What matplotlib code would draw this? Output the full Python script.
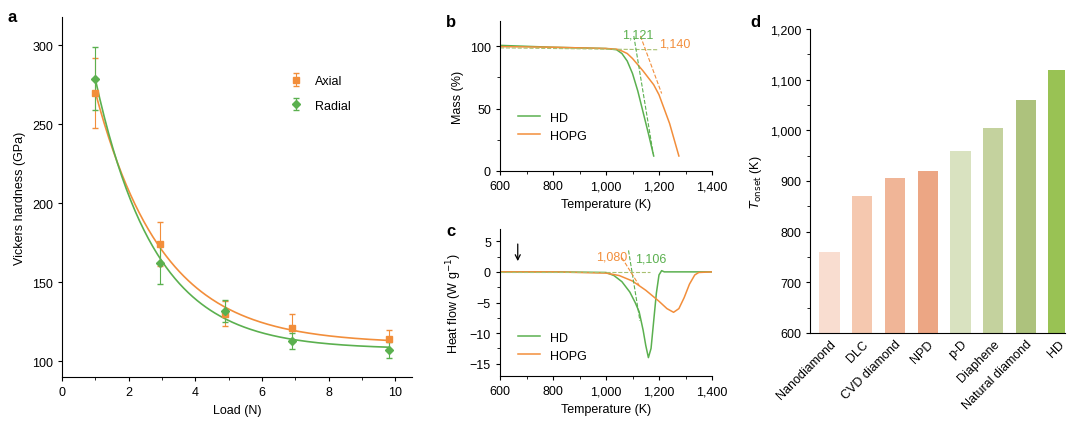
import numpy as np
import matplotlib
matplotlib.use("Agg")
import matplotlib.pyplot as plt

plt.rcParams['font.family'] = ['Liberation Sans', 'DejaVu Sans']
plt.rcParams['font.size'] = 9

OR = '#F28E3B'
GR = '#5BB04F'

# Panel a
load = [1.0, 2.95, 4.9, 6.9, 9.8]
axial = [270, 174, 130, 121, 114]
axial_err = [22, 14, 8, 9, 6]
radial = [279, 162, 132, 113, 107]
radial_err = [20, 13, 7, 5, 5]

# Panel b
tb_hd = [600, 800, 1000, 1040, 1060, 1080, 1100, 1120, 1140, 1160, 1180]
mass_hd = [100.5, 99, 98, 97, 94, 88, 78, 64, 47, 30, 12]
tb_hopg = [600, 800, 1000, 1040, 1060, 1080, 1100, 1140, 1180, 1200, 1240, 1275]
mass_hopg = [99.5, 99, 98, 97.5, 96, 94, 90, 80, 69, 61, 38, 12]
onset_b = {'1,121': 1121, '1,140': 1140}

# Panel c
tc_hd = [600, 800, 1000, 1030, 1060, 1090, 1110, 1125, 1140, 1150, 1160, 1170, 1180, 1190, 1200, 1210, 1220, 1300, 1400]
hf_hd = [0, 0, -0.1, -0.6, -1.6, -3.3, -5, -6.5, -9.5, -12, -14, -12.5, -8, -3.5, -0.5, 0.2, 0, 0, 0]
tc_hopg = [600, 800, 1000, 1050, 1100, 1150, 1200, 1230, 1255, 1275, 1295, 1315, 1335, 1350, 1400]
hf_hopg = [0, 0, -0.2, -0.6, -1.5, -3.0, -4.8, -6.0, -6.6, -6.0, -4.2, -2.0, -0.5, -0.1, 0]

# Panel d
materials = ['Nanodiamond', 'DLC', 'CVD diamond', 'NPD', 'p-D', 'Diaphene', 'Natural diamond', 'HD']
tonset = [760, 870, 905, 920, 960, 1005, 1060, 1120]
bar_colors = ['#F9DDD0', '#F5C8AF', '#F0B597', '#ECA684', '#D9E2C0', '#C4D29E', '#ADC27D', '#99C254']

fig = plt.figure(figsize=(10.8, 4.27), dpi=100)

def style(ax):
    for s in ['top', 'right']:
        ax.spines[s].set_visible(False)
    ax.tick_params(direction='out', length=3)

def fit_exp(x, y):
    x = np.asarray(x); y = np.asarray(y)
    best = None
    for t in np.linspace(0.5, 6, 400):
        A = np.vstack([np.ones_like(x), np.exp(-x / t)]).T
        c, res, *_ = np.linalg.lstsq(A, y, rcond=None)
        r = np.sum((A @ c - y) ** 2)
        if best is None or r < best[0]:
            best = (r, t, c)
    _, t, c = best
    return lambda xx: c[0] + c[1] * np.exp(-xx / t)

# a
axa = fig.add_axes([62/1080, 1-378/427, 350/1080, 360/427])
style(axa)
xs = np.linspace(1, 9.8, 200)
fa = fit_exp(load, axial); fr = fit_exp(load, radial)
axa.plot(xs, fa(xs), color=OR, lw=1.2)
axa.plot(xs, fr(xs), color=GR, lw=1.2)
axa.errorbar(load, axial, yerr=axial_err, fmt='s', color=OR, ms=5, capsize=2, elinewidth=0.8, label='Axial')
axa.errorbar(load, radial, yerr=radial_err, fmt='D', color=GR, ms=4.5, capsize=2, elinewidth=0.8, label='Radial')
axa.set_xlim(0, 10.5)
axa.set_ylim(90, 318)
axa.set_xticks([0, 2, 4, 6, 8, 10])
axa.set_yticks([100, 150, 200, 250, 300])
axa.set_xticks(np.arange(1, 11, 2), minor=True)
axa.set_xlabel('Load (N)')
axa.set_ylabel('Vickers hardness (GPa)')
axa.legend(loc='upper left', bbox_to_anchor=(0.6, 0.87), frameon=False, handletextpad=0.5, labelspacing=1.0)
fig.text(8/1080, 1-22/427, 'a', fontsize=12, fontweight='bold')

# b
axb = fig.add_axes([500/1080, 1-172/427, 212/1080, 150/427])
style(axb)
axb.plot(tb_hd, mass_hd, color=GR, lw=1.1, label='HD')
axb.plot(tb_hopg, mass_hopg, color=OR, lw=1.1, label='HOPG')
axb.plot([600, 1200], [98.5, 97], ls='--', color='#A8C070', lw=0.8)
axb.plot([1105, 1178], [108, 14], ls='--', color=GR, lw=0.8)
axb.plot([1130, 1210], [108, 62], ls='--', color=OR, lw=0.8)
axb.text(1121, 104, '1,121', color=GR, ha='center', va='bottom', fontsize=9)
axb.text(1200, 97, '1,140', color=OR, ha='left', va='bottom', fontsize=9)
axb.set_xlim(600, 1400); axb.set_ylim(0, 120)
axb.set_xticks([600, 800, 1000, 1200, 1400]); axb.set_xticklabels(['600', '800', '1,000', '1,200', '1,400'])
axb.set_xticks([700, 900, 1100, 1300], minor=True)
axb.set_yticks([0, 50, 100]); axb.set_yticks([25, 75], minor=True)
axb.set_xlabel('Temperature (K)'); axb.set_ylabel('Mass (%)')
axb.legend(loc='lower left', bbox_to_anchor=(0.03, 0.12), frameon=False, handlelength=1.8)
fig.text(446/1080, 1-27/427, 'b', fontsize=12, fontweight='bold')

# c
axc = fig.add_axes([500/1080, 1-377/427, 212/1080, 147/427])
style(axc)
axc.plot(tc_hd, hf_hd, color=GR, lw=1.1, label='HD')
axc.plot(tc_hopg, hf_hopg, color=OR, lw=1.1, label='HOPG')
axc.plot([600, 1165], [0, 0], ls='--', color='#A8C070', lw=0.8)
axc.plot([1085, 1128], [3.5, -8], ls='--', color=GR, lw=0.8)
axc.plot([1060, 1125], [2.3, -2.2], ls='--', color=OR, lw=0.8)
axc.text(1080, 1.6, '1,080', color=OR, ha='right', va='bottom', fontsize=9)
axc.text(1110, 1.2, '1,106', color=GR, ha='left', va='bottom', fontsize=9)
axc.annotate('', xy=(667, 1.3), xytext=(667, 5), arrowprops=dict(arrowstyle='->', color='k', lw=0.9))
axc.set_xlim(600, 1400); axc.set_ylim(-17, 7)
axc.set_xticks([600, 800, 1000, 1200, 1400]); axc.set_xticklabels(['600', '800', '1,000', '1,200', '1,400'])
axc.set_xticks([700, 900, 1100, 1300], minor=True)
axc.set_yticks([5, 0, -5, -10, -15]); axc.set_yticklabels(['5', '0', '\u22125', '\u221210', '\u221215'])
axc.set_yticks([2.5, -2.5, -7.5, -12.5], minor=True)
axc.set_xlabel('Temperature (K)'); axc.set_ylabel('Heat flow (W g$^{-1}$)')
axc.legend(loc='lower left', bbox_to_anchor=(0.03, 0.02), frameon=False, handlelength=1.8)
fig.text(446/1080, 1-236/427, 'c', fontsize=12, fontweight='bold')

# d
axd = fig.add_axes([810/1080, 1-334/427, 255/1080, 304/427])
style(axd)
axd.bar(range(len(materials)), np.array(tonset) - 600, bottom=600, color=bar_colors, width=0.62)
axd.set_ylim(600, 1200); axd.set_xlim(-0.6, 7.2)
axd.set_yticks(range(600, 1201, 100))
axd.set_yticklabels(['600', '700', '800', '900', '1,000', '1,100', '1,200'])
axd.set_yticks(range(650, 1200, 100), minor=True)
axd.set_xticks(range(len(materials)))
axd.set_xticklabels(materials, rotation=45, ha='right', rotation_mode='anchor')
axd.tick_params(axis='x', length=0)
axd.set_ylabel('$T_{\\mathrm{onset}}$ (K)')
fig.text(750/1080, 1-27/427, 'd', fontsize=12, fontweight='bold')

fig.savefig('out.png', dpi=100)
